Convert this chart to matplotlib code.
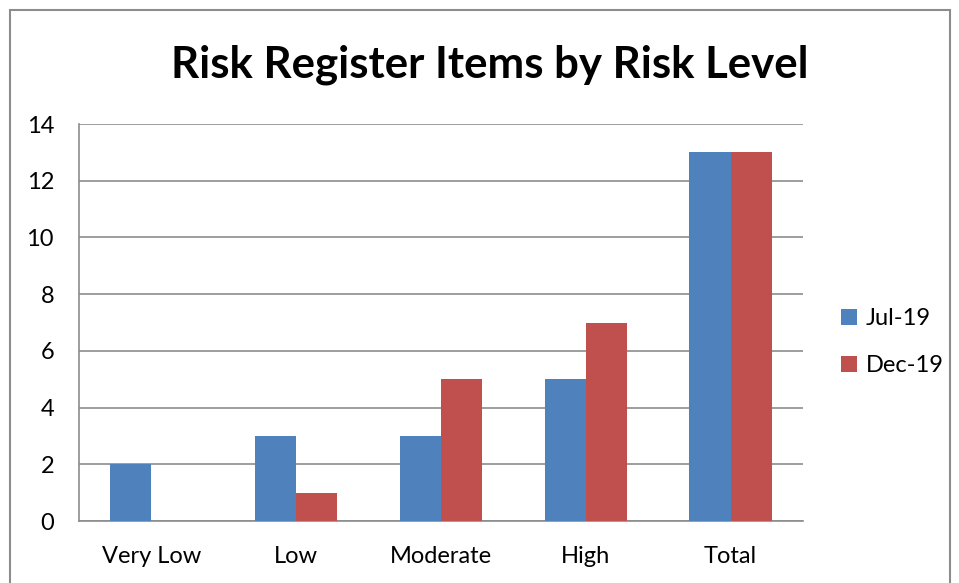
import matplotlib.pyplot as plt
import matplotlib.patches as mpatches
import numpy as np

# Data
categories = ["Very Low", "Low", "Moderate", "High", "Total"]
jul_19 = [2, 3, 3, 5, 13]
dec_19 = [0, 1, 5, 7, 13]
y_ticks = [0, 2, 4, 6, 8, 10, 12, 14]

plt.rcParams['font.family'] = ['Lato', 'DejaVu Sans']

fig = plt.figure(figsize=(9.59, 5.83), dpi=100)
ax = fig.add_axes([79 / 959, 1 - 521 / 583, (803 - 79) / 959, (521 - 124) / 583])

# outer chart border
fig.patches.append(mpatches.Rectangle((10 / 959, -0.05), 940 / 959, 1 - 10 / 583 + 0.05,
                                      transform=fig.transFigure, fill=False,
                                      edgecolor='#8c8c8c', linewidth=1.5))

x = np.arange(len(categories))
w = 0.285
ax.bar(x - w / 2, jul_19, w, color='#4f81bd', label='Jul-19', zorder=3)
ax.bar(x + w / 2, dec_19, w, color='#c0504d', label='Dec-19', zorder=3)

ax.set_xlim(-0.5, len(categories) - 0.5)
ax.set_ylim(0, 14)
ax.set_yticks(y_ticks)
ax.set_xticks(x, labels=categories)
ax.tick_params(axis='both', labelsize=17, length=0, colors='black')
ax.tick_params(axis='x', pad=18)
ax.tick_params(axis='y', pad=18)
ax.yaxis.grid(True, color='#8c8c8c', linewidth=1.2, zorder=0)
for s in ax.spines.values():
    s.set_color('#8c8c8c')
    s.set_linewidth(1.2)
ax.spines['top'].set_visible(False)
ax.spines['right'].set_visible(False)

fig.text(490 / 959, 1 - 65 / 583, "Risk Register Items by Risk Level",
         ha='center', va='center', fontsize=31.5, fontweight='bold')

fig.legend(loc='center left', bbox_to_anchor=(820 / 959, 1 - 342 / 583),
           frameon=False, fontsize=17, handlelength=0.65, handleheight=0.65,
           handletextpad=0.4, labelspacing=1.1)

fig.savefig('out.png', dpi=100)
